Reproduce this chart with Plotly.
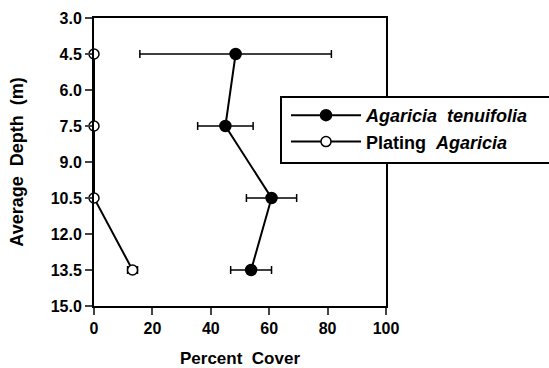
import plotly.graph_objects as go

depth = [4.5, 7.5, 10.5, 13.5]
tenuifolia_cover = [48.5, 45.0, 60.8, 53.8]
tenuifolia_err = [32.8, 9.5, 8.6, 7.0]
plating_cover = [0.0, 0.0, 0.0, 13.2]
plating_err = [0.0, 0.0, 0.0, 1.7]
y_ticks = [3.0, 4.5, 6.0, 7.5, 9.0, 10.5, 12.0, 13.5, 15.0]
x_ticks = [0, 20, 40, 60, 80, 100]

FONT = "Liberation Sans"
L, R, T, B = 94, 386, 18, 306
W, H = 549, 368


def px(xp):
    return (xp - L) / (R - L)


def py(yp):
    return (B - yp) / (B - T)


fig = go.Figure()
fig.add_trace(go.Scatter(
    x=tenuifolia_cover, y=depth, mode="lines+markers",
    name="<b><i>Agaricia  tenuifolia</i></b>",
    line=dict(color="black", width=2),
    marker=dict(symbol="circle", size=11, color="black", line=dict(color="black", width=1.5)),
    error_x=dict(type="data", array=tenuifolia_err, visible=True, color="black", thickness=1.5, width=4),
    cliponaxis=False,
))
fig.add_trace(go.Scatter(
    x=plating_cover, y=depth, mode="lines+markers",
    name="<b>Plating  <i>Agaricia</i></b>",
    line=dict(color="black", width=2),
    marker=dict(symbol="circle", size=10, color="white", line=dict(color="black", width=1.5)),
    error_x=dict(type="data", array=plating_err, visible=True, color="black", thickness=1.5, width=4),
    cliponaxis=False,
))

fig.update_layout(
    width=W, height=H,
    margin=dict(l=L, r=W - R, t=T, b=H - B, autoexpand=False),
    paper_bgcolor="white", plot_bgcolor="white",
    font=dict(family=FONT, size=16, color="black"),
    showlegend=True,
    legend=dict(
        x=px(286), y=py(97), xanchor="left", yanchor="top",
        bgcolor="rgba(0,0,0,0)", borderwidth=0,
        font=dict(family=FONT, size=18, color="black"),
        itemwidth=70, tracegroupgap=0,
    ),
    xaxis=dict(
        range=[0, 100], tickvals=x_ticks, ticks="outside", ticklen=7, tickwidth=1.5,
        showline=True, linewidth=2, linecolor="black", mirror=True,
        showgrid=False, zeroline=False, automargin=False,
        tickfont=dict(family=FONT, size=16, color="black", weight="bold"),
        title=dict(text="<b>Percent  Cover</b>", font=dict(family=FONT, size=17), standoff=16),
    ),
    yaxis=dict(
        range=[15, 3], tickvals=y_ticks, tickformat=".1f", ticks="outside", ticklen=7, tickwidth=1.5,
        showline=True, linewidth=2, linecolor="black", mirror=True,
        showgrid=False, zeroline=False, automargin=False,
        tickfont=dict(family=FONT, size=16, color="black", weight="bold"),
        title=dict(text="<b>Average  Depth  (m)</b>", font=dict(family=FONT, size=18), standoff=22),
    ),
    shapes=[dict(
        type="rect", xref="paper", yref="paper",
        x0=px(281), x1=px(W + 10),
        y0=py(163), y1=py(97),
        line=dict(color="black", width=2), fillcolor="white", layer="above",
    )],
)

fig.write_html("out.html", config={"displayModeBar": False},
               post_script="document.body.style.margin='0';")
